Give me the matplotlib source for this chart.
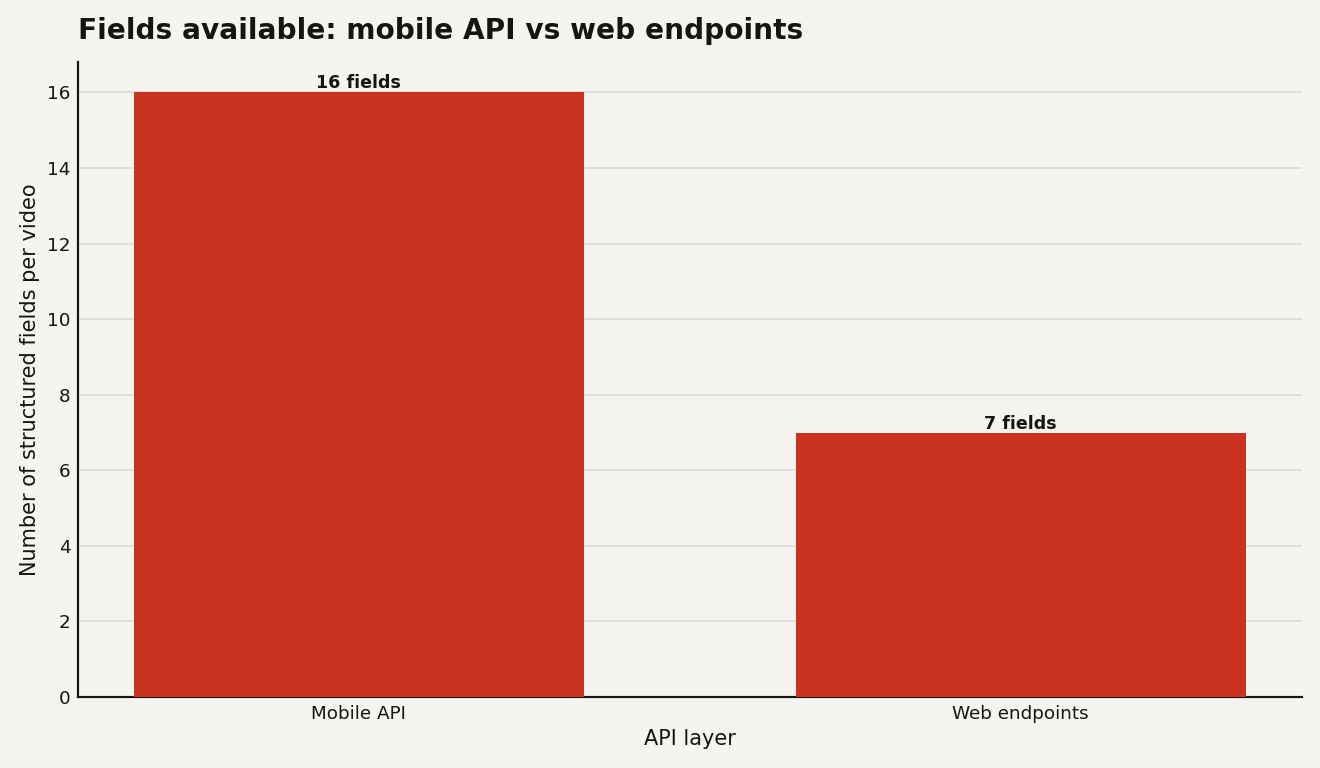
import matplotlib
matplotlib.use("Agg")
import matplotlib.pyplot as plt

# data
layers = ["Mobile API", "Web endpoints"]
field_counts = [16, 7]
bar_labels = ["16 fields", "7 fields"]

bg = "#f5f4f0"
bar_color = "#c93320"
ink = "#161512"

fig, ax = plt.subplots(figsize=(11, 6.4), dpi=120)
fig.patch.set_facecolor(bg)
ax.set_facecolor(bg)
fig.subplots_adjust(left=0.059, right=0.986, top=0.919, bottom=0.0924)

bars = ax.bar(layers, field_counts, width=0.68, color=bar_color, zorder=3)

for b, lab in zip(bars, bar_labels):
    ax.annotate(lab, (b.get_x() + b.get_width() / 2, b.get_height()),
                xytext=(0, 0), textcoords="offset points",
                ha="center", va="bottom", fontsize=10.5, fontweight="bold", color=ink)

ax.set_title("Fields available: mobile API vs web endpoints", loc="left",
             fontsize=16.8, fontweight="bold", color=ink, pad=14)
ax.set_xlabel("API layer", fontsize=12.5, color=ink)
ax.set_ylabel("Number of structured fields per video", fontsize=12.5, color=ink)

ax.grid(axis="y", color="#e0dfd8", linewidth=1.2, zorder=0)
ax.set_axisbelow(True)
for s in ["top", "right"]:
    ax.spines[s].set_visible(False)
for s in ["left", "bottom"]:
    ax.spines[s].set_color(ink)
    ax.spines[s].set_linewidth(1.3)
ax.tick_params(length=0, labelsize=11, colors=ink, pad=4.5)

fig.savefig("out.png", dpi=120, facecolor=bg)
